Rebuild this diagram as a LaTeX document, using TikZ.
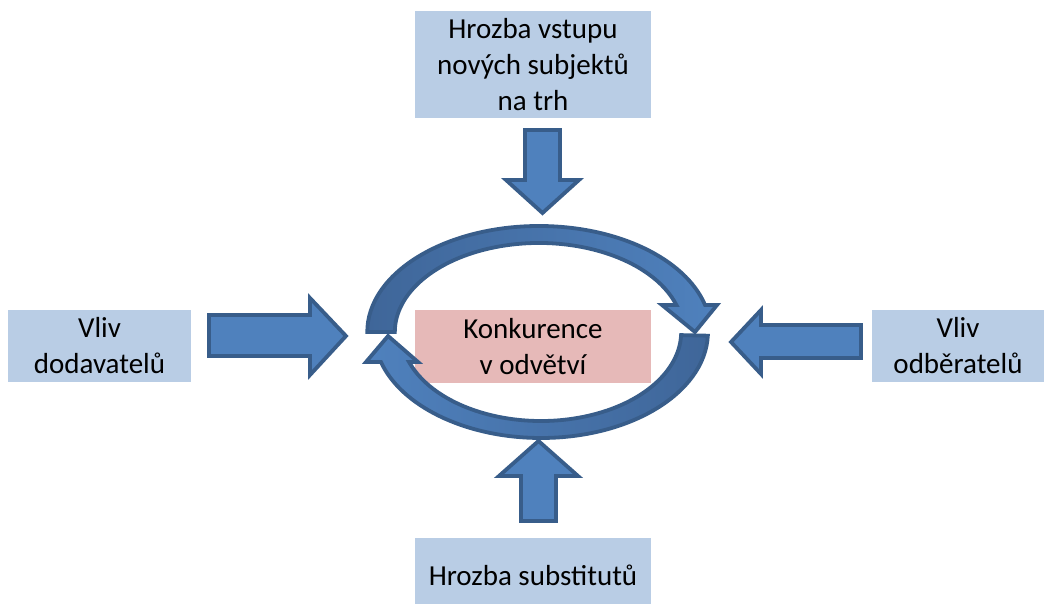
\documentclass[tikz,border=0pt]{standalone}
\usepackage{fontspec}
\setmainfont{Carlito}
\definecolor{boxblue}{HTML}{B9CDE5}
\definecolor{boxpink}{HTML}{E6B9B8}
\definecolor{arrowfill}{HTML}{4F81BD}
\definecolor{arrowline}{HTML}{385D8A}
\definecolor{arcdark}{HTML}{3F6699}

\begin{document}
\begin{tikzpicture}[x=1pt,y=1pt,
  label/.style={font=\fontsize{29}{36}\selectfont, align=center, inner sep=0pt},
  bluebox/.style={label, fill=boxblue},
  pinkbox/.style={label, fill=boxpink},
  blockarrow/.style={fill=arrowfill, draw=arrowline, line width=3.8pt, line join=miter},
  ringarrow/.style={draw=arrowline, line width=3.8pt, line join=miter}]
\useasboundingbox (0,0) rectangle (1049,604);

% the five forces
\node[bluebox, minimum width=236pt, minimum height=107pt] (entry) at (533,539.5)
  {Hrozba vstupu\\nových subjektů\\na trh};
\node[bluebox, minimum width=183pt, minimum height=72pt] (suppliers) at (99.5,258)
  {Vliv\\dodavatelů};
\node[bluebox, minimum width=172pt, minimum height=72pt] (buyers) at (958,258)
  {Vliv\\odběratelů};
\node[pinkbox, minimum width=236pt, minimum height=73pt] (rivalry) at (533,257.5)
  {Konkurence\\v odvětví};
\node[bluebox, minimum width=236pt, minimum height=74pt] (substitutes) at (533,29)
  {Hrozba substitutů};

% circular arrows round the rivalry box
\begin{scope}[shift={(539,272)}, xscale=1.62]
  \path[ringarrow, left color=arcdark, right color=arrowfill]
    (180:106) arc[start angle=180, end angle=14.76, radius=106]
    -- (109.9,27) -- (96.3,0) -- (75.9,27)
    -- (17.66:89) arc[start angle=17.66, end angle=180, radius=89] -- cycle;
\end{scope}
\begin{scope}[shift={(541,272)}, xscale=1.575]
  \path[ringarrow, left color=arrowfill, right color=arcdark]
    (-2:106) arc[start angle=-2, end angle=-163.56, radius=106]
    -- (-111.1,-30) -- (-97.1,-4) -- (-78.1,-30)
    -- (199.7:89) arc[start angle=199.7, end angle=358, radius=89] -- cycle;
\end{scope}

% block arrows pointing at the centre
\draw[blockarrow] (525,474) -- (560,474) -- (560,424) -- (579,424)
  -- (542.5,391) -- (506,424) -- (525,424) -- cycle;
\draw[blockarrow] (209,289) -- (310,289) -- (310,306) -- (346,268)
  -- (310,229) -- (310,248) -- (209,248) -- cycle;
\draw[blockarrow] (861,279) -- (761,279) -- (761,294) -- (731,262)
  -- (761,230) -- (761,246) -- (861,246) -- cycle;
\draw[blockarrow] (521,83) -- (556,83) -- (556,128) -- (578,128)
  -- (538.5,163) -- (499,128) -- (521,128) -- cycle;
\end{tikzpicture}
\end{document}
